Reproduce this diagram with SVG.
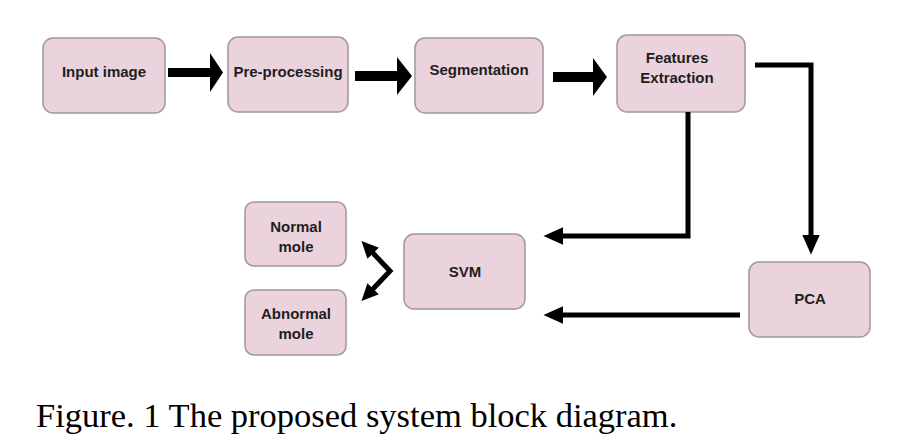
<svg xmlns="http://www.w3.org/2000/svg" width="905" height="445" viewBox="0 0 905 445">
<style>
.box{fill:#ebd3dd;stroke:#a3979c;stroke-width:1.5}
.lbl{font-family:"Liberation Sans",Arial,sans-serif;font-weight:bold;font-size:15px;fill:#1e1e1e;text-anchor:middle}
.ln{fill:none;stroke:#000;stroke-width:5;stroke-linejoin:miter}
.cap{font-family:"Liberation Serif","Times New Roman",serif;font-size:34.5px;fill:#000}
</style>
<defs>
<marker id="ah" markerUnits="userSpaceOnUse" markerWidth="20" markerHeight="18" refX="4" refY="8" orient="auto-start-reverse" viewBox="0 0 18 16">
<path d="M0,0 L18,8 L0,16 z" fill="#000"/>
</marker>
<marker id="ahs" markerUnits="userSpaceOnUse" markerWidth="17" markerHeight="17" refX="3" refY="7.5" orient="auto-start-reverse" viewBox="0 0 16 15">
<path d="M0,0 L16,7.5 L0,15 z" fill="#000"/>
</marker>
</defs>
<rect width="905" height="445" fill="#fff"/>
<g id="input"><rect class="box" x="43" y="38" width="122" height="75" rx="10"/><text class="lbl" x="104" y="77">Input image</text></g>
<g id="preprocessing"><rect class="box" x="228" y="37" width="120" height="75" rx="10"/><text class="lbl" x="288" y="77">Pre-processing</text></g>
<g id="segmentation"><rect class="box" x="415" y="38" width="128" height="75" rx="10"/><text class="lbl" x="479" y="75">Segmentation</text></g>
<g id="features"><rect class="box" x="617" y="35" width="128" height="77" rx="10"/><text class="lbl" x="677" y="63">Features</text><text class="lbl" x="677" y="83">Extraction</text></g>
<g id="normal"><rect class="box" x="245" y="202" width="101" height="64" rx="9"/><text class="lbl" x="296" y="232">Normal</text><text class="lbl" x="296" y="252">mole</text></g>
<g id="abnormal"><rect class="box" x="245" y="290" width="101" height="65" rx="9"/><text class="lbl" x="296" y="319">Abnormal</text><text class="lbl" x="296" y="339">mole</text></g>
<g id="svm"><rect class="box" x="404" y="234" width="121" height="75" rx="10"/><text class="lbl" x="465" y="277">SVM</text></g>
<g id="pca"><rect class="box" x="749" y="262" width="121" height="75" rx="10"/><text class="lbl" x="810" y="304">PCA</text></g>
<g id="connectors">
<polygon points="168,68 210,68 210,53 223,72.5 210,92 210,77 168,77" fill="#000"/>
<polygon points="355,71 397,71 397,57 412,76 397,95 397,81 355,81" fill="#000"/>
<polygon points="553,72 593,72 593,58 607,77 593,96 593,82 553,82" fill="#000"/>
<path class="ln" d="M755,65 L811,65 L811,239" marker-end="url(#ah)"/>
<path class="ln" d="M688,112 L688,236 L559,236" marker-end="url(#ah)"/>
<path class="ln" d="M740,315 L559,315" marker-end="url(#ah)"/>
<path class="ln" d="M371,251 L390,271 L371,291" stroke-width="4.5" marker-start="url(#ahs)" marker-end="url(#ahs)"/>
</g>
<text class="cap" x="36" y="427">Figure. 1 The proposed system block diagram.</text>
</svg>
